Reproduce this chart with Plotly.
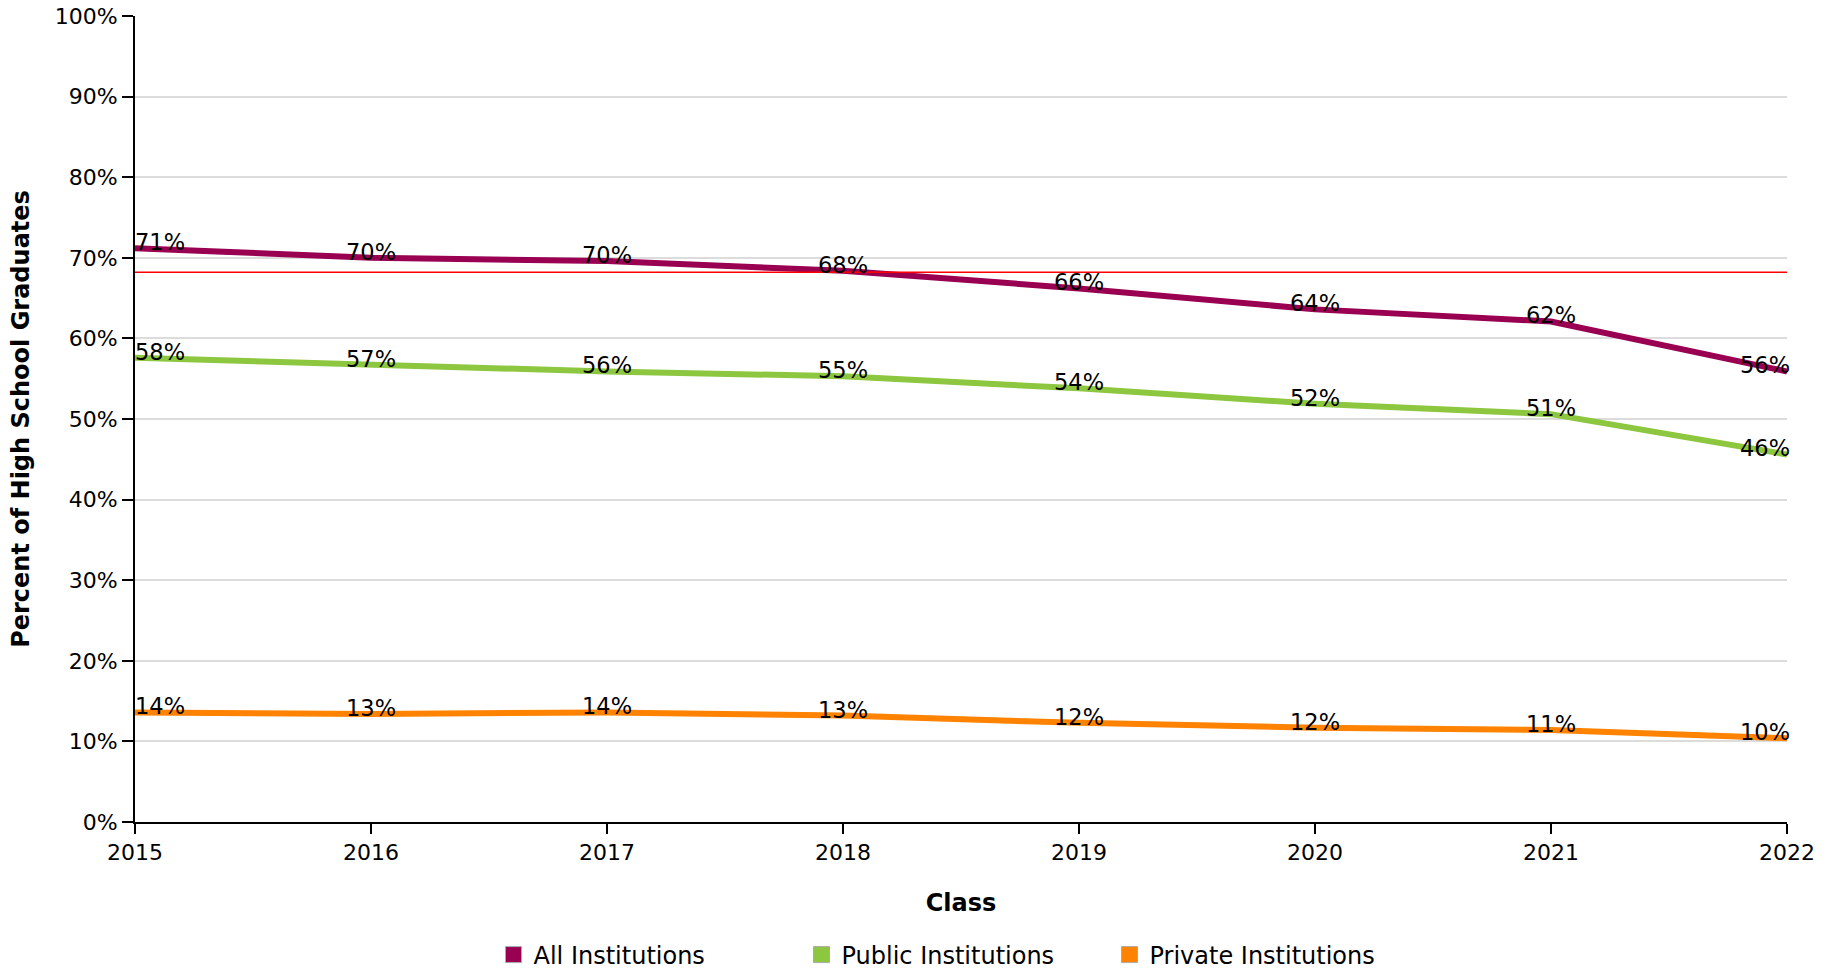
import plotly.graph_objects as go

years = [2015, 2016, 2017, 2018, 2019, 2020, 2021, 2022]
all_inst = [71.2, 70.0, 69.6, 68.4, 66.2, 63.6, 62.1, 55.9]
public_inst = [57.6, 56.7, 55.9, 55.3, 53.8, 51.9, 50.6, 45.6]
private_inst = [13.6, 13.4, 13.6, 13.2, 12.3, 11.7, 11.4, 10.4]
reference_value = 68.2

series = [
    ("All Institutions", all_inst, "#990052"),
    ("Public Institutions", public_inst, "#8dc63f"),
    ("Private Institutions", private_inst, "#ff8200"),
]

FONT = "DejaVu Sans"
fig = go.Figure()

for name, vals, color in series:
    fig.add_trace(go.Scatter(
        x=years, y=vals, mode="lines",
        line=dict(color=color, width=6),
        cliponaxis=False, showlegend=False, hoverinfo="skip",
    ))

for name, vals, color in series:
    fig.add_trace(go.Scatter(
        x=[None], y=[None], mode="markers", name=name,
        marker=dict(symbol="square", size=16, color=color,
                    line=dict(color="#aaaaaa", width=1)),
    ))

annotations = []
for name, vals, color in series:
    for i, (yr, v) in enumerate(zip(years, vals)):
        if i == 0:
            xa, xs = "left", -2
        elif i == len(years) - 1:
            xa, xs = "right", 5
        else:
            xa, xs = "center", 0
        annotations.append(dict(
            x=yr, y=v, xref="x", yref="y", text=f"{round(v):.0f}%",
            showarrow=False, xanchor=xa, yanchor="bottom", xshift=xs, yshift=-9,
            font=dict(family=FONT, size=22.5, color="black"),
        ))

fig.add_shape(type="line", xref="paper", x0=0, x1=1, yref="y",
              y0=reference_value, y1=reference_value,
              line=dict(color="#ff0000", width=1.5), layer="above")

fig.update_layout(
    width=1837, height=971,
    margin=dict(l=135, r=50, t=16, b=149),
    paper_bgcolor="white", plot_bgcolor="white",
    font=dict(family=FONT, size=22, color="black"),
    annotations=annotations,
    xaxis=dict(
        range=[2015, 2022], tickmode="array", tickvals=years,
        ticktext=[str(y) for y in years],
        showgrid=False, zeroline=False, automargin=False,
        showline=True, linecolor="black", linewidth=2,
        ticks="outside", ticklen=10, tickwidth=2, tickcolor="black",
        tickfont=dict(family=FONT, size=22),
        title=dict(text="<b>Class</b>", font=dict(family=FONT, size=24), standoff=30),
    ),
    yaxis=dict(
        range=[0, 100], tickmode="array", tickvals=list(range(0, 101, 10)),
        ticktext=[f"{v}%" for v in range(0, 101, 10)],
        showgrid=True, gridcolor="#dcdcdc", gridwidth=1.5, zeroline=False, automargin=False,
        showline=True, linecolor="black", linewidth=2,
        ticks="outside", ticklen=11, tickwidth=2, tickcolor="black",
        tickfont=dict(family=FONT, size=22),
        title=dict(text="<b>Percent of High School Graduates</b>", font=dict(family=FONT, size=24), standoff=18),
    ),
    legend=dict(
        orientation="h", x=0.5 + 37 / 1837, xanchor="center", xref="container",
        y=16 / 971, yanchor="middle", yref="container",
        font=dict(family=FONT, size=24), entrywidth=263, itemsizing="trace",
    ),
)

fig.write_html("out.html", config={"displayModeBar": False},
               post_script="document.body.style.margin='0';")
